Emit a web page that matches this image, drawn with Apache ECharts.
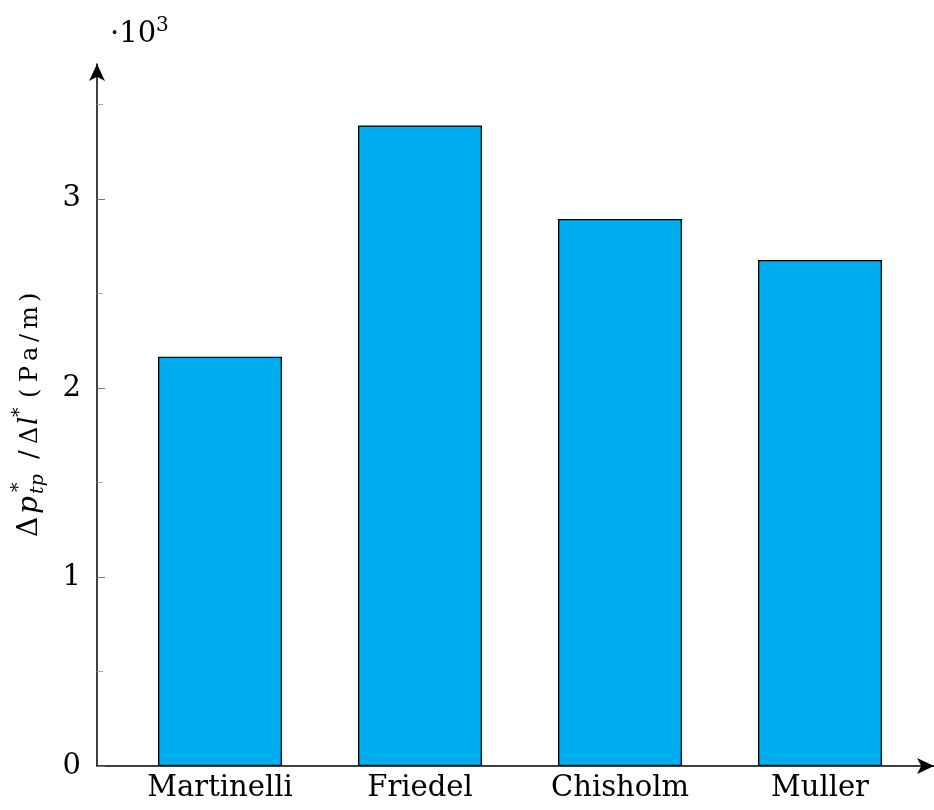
<!DOCTYPE html>
<html>
<head>
<meta charset="utf-8">
<title>Pressure gradient by correlation</title>
<script src="https://cdn.jsdelivr.net/npm/echarts@6/dist/echarts.min.js"></script>
<style>
  html, body { margin: 0; padding: 0; background: #fff; }
  #chart { width: 934px; height: 810px; }
</style>
</head>
<body>
<div id="chart"></div>
<script>
// Two-phase frictional pressure gradient per correlation (Pa/m)
const categories = ['Martinelli', 'Friedel', 'Chisholm', 'Muller'];
const gradient = [2165, 3389, 2894, 2677];
const majorTicks = [0, 1000, 2000, 3000];
const minorTicks = [500, 1500, 2500, 3500];

const serif = '"DejaVu Serif", "Liberation Serif", serif';
const ASCENT = 0.76; // baseline offset below the top of a text box, as a share of font size
const chart = echarts.init(document.getElementById('chart'), null, { renderer: 'canvas' });

// Category positions along a numeric x scale (1..n)
const barData = categories.map((c, i) => [i + 1, gradient[i]]);

// A text glyph placed by its baseline
function glyph(text, x, baseline, size, italic) {
  return {
    type: 'text', x: x, y: baseline - ASCENT * size,
    style: {
      text: text, fill: '#000',
      fontFamily: serif, fontSize: size,
      fontStyle: italic ? 'italic' : 'normal',
      align: 'left', verticalAlign: 'top'
    }
  };
}

// Axis title, laid out along its own baseline and then rotated
const titleChildren = [
  glyph('Δ', 0, 0, 28, false),
  glyph('p', 23, 0, 28, true),
  glyph('*', 45, -13, 19, false),
  glyph('tp', 43, 6, 19, true),
  glyph('/', 78, 0, 26, false),
  glyph('Δ', 93, 0, 24, false),
  glyph('l', 112, 0, 26, true),
  glyph('*', 120, -12, 19, false),
  glyph('(', 139, 0, 24, false),
  glyph('P', 155, 0, 24, false),
  glyph('a', 176, 0, 24, false),
  glyph('/', 195, 0, 24, false),
  glyph('m', 208, 0, 24, false),
  glyph(')', 235, 0, 24, false)
];

const option = {
  backgroundColor: '#fff',
  animation: false,
  grid: { left: 97, right: 0, top: 64, bottom: 44, containLabel: false },
  xAxis: {
    type: 'value',
    min: 0.385,
    max: 4.57,
    splitLine: { show: false },
    axisTick: { show: false },
    axisLine: {
      show: true, onZero: false,
      symbol: ['none', 'arrow'], symbolSize: [12, 17],
      lineStyle: { color: '#000', width: 1.5 }
    },
    axisLabel: {
      customValues: [1, 2, 3, 4],
      formatter: v => categories[Math.round(v) - 1] || '',
      color: '#000', fontFamily: serif, fontSize: 29, margin: 8
    }
  },
  yAxis: [
    {
      type: 'value',
      min: 0,
      max: 3714,
      splitLine: { show: false },
      axisLine: {
        show: true,
        symbol: ['none', 'arrow'], symbolSize: [12, 17],
        lineStyle: { color: '#000', width: 1.5 }
      },
      axisTick: {
        show: true, inside: true, length: 8,
        customValues: majorTicks,
        lineStyle: { color: '#777', width: 1 }
      },
      axisLabel: {
        customValues: majorTicks,
        formatter: v => String(v / 1000),
        color: '#000', fontFamily: serif, fontSize: 29, margin: 16
      }
    },
    {
      type: 'value',
      min: 0,
      max: 3714,
      position: 'left',
      splitLine: { show: false },
      axisLine: { show: false },
      axisTick: {
        show: true, inside: true, length: 6,
        customValues: minorTicks,
        lineStyle: { color: '#aaa', width: 1 }
      },
      axisLabel: { show: false }
    }
  ],
  series: [
    {
      type: 'bar',
      data: barData,
      barWidth: 124,
      itemStyle: { color: '#00ADEF', borderColor: '#000', borderWidth: 1.3 }
    }
  ],
  graphic: [
    {
      type: 'group',
      x: 37, y: 537,
      rotation: Math.PI / 2,
      children: titleChildren
    },
    glyph('·10', 110, 42, 29, false),
    glyph('3', 156, 31, 20, false)
  ]
};

chart.setOption(option);
</script>
</body>
</html>
